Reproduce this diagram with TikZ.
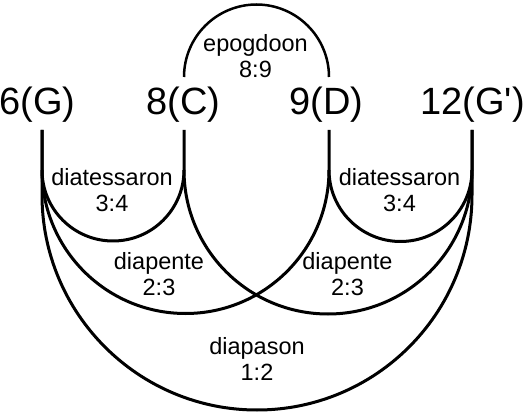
\documentclass[tikz,border=0pt]{standalone}
\usepackage{fontspec}
\setmainfont{Liberation Sans}[Ligatures=TeXOff]
\begin{document}
\begin{tikzpicture}[x=1pt,y=1pt,
  note/.style={inner sep=0pt,anchor=base,font=\fontsize{38}{38}\selectfont},
  ratio/.style={inner sep=0pt,anchor=base,align=center,font=\fontsize{23.5}{26}\selectfont},
  curve/.style={line width=3pt,line join=round},
  thin curve/.style={line width=2.5pt}]
\useasboundingbox (0,0) rectangle (528,-417);
% notes
\node[note] (G)  at (37.5,-115) {6(G)};
\node[note] (C)  at (183.5,-115) {8(C)};
\node[note] (D)  at (326.5,-115) {9(D)};
\node[note] (Gp) at (472.5,-115) {12(G')};
% anchor points
\coordinate (gtop) at (42,-130);
\coordinate (ctop) at (184,-130);
\coordinate (dtop) at (329,-130);
\coordinate (gptop) at (472,-130);
\coordinate (gs) at (42,-170);
\coordinate (cs) at (184,-170);
\coordinate (ds) at (329,-170);
\coordinate (gps) at (472,-170);
\coordinate (cup) at (184,-77);
\coordinate (dup) at (329,-77);
% epogdoon
\draw[thin curve] (cup) arc[start angle=180,end angle=0,radius=72.5];
% diatessaron
\draw[curve] (gtop) -- (gs) arc[start angle=180,end angle=360,radius=71] -- (ctop);
\draw[curve] (dtop) -- (ds) arc[start angle=180,end angle=360,radius=71.5] -- (gptop);
% diapente
\draw[curve] (gs) arc[start angle=180,end angle=360,radius=143.5];
\draw[curve] (cs) arc[start angle=180,end angle=360,radius=144];
% diapason
\draw[curve] (gtop) -- (42,-195) arc[start angle=180,end angle=360,radius=215] -- (gptop);
% labels (base = baseline of the last line)
\node[ratio] (epo) at (255.5,-78) {epogdoon\\8:9};
\node[ratio] (diaL) at (112,-212) {diatessaron\\3:4};
\node[ratio] (diaR) at (399.5,-212) {diatessaron\\3:4};
\node[ratio] (penL) at (159,-295) {diapente\\2:3};
\node[ratio] (penR) at (347.5,-295) {diapente\\2:3};
\node[ratio] (pas) at (257,-380) {diapason\\1:2};
\end{tikzpicture}
\end{document}
